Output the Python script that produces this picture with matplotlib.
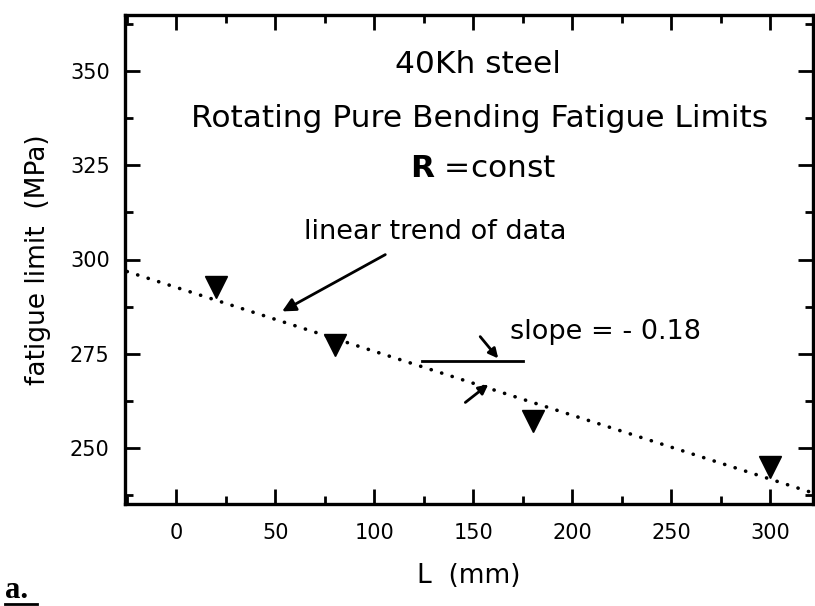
import numpy as np
import matplotlib
matplotlib.use('Agg')
import matplotlib.pyplot as plt
from matplotlib.ticker import MultipleLocator

plt.rcParams['font.family'] = ['DejaVu Sans']
plt.rcParams['mathtext.fontset'] = 'custom'
plt.rcParams['mathtext.bf'] = 'DejaVu Sans:bold'
plt.rcParams['mathtext.rm'] = 'DejaVu Sans'

# данные
L_mm = [20, 80, 180, 300]
fatigue_limit = [292.6, 277.4, 257.0, 244.8]

# линейный тренд
k, b = np.polyfit(L_mm, fatigue_limit, 1)
x_trend = np.array([-30, 330])
y_trend = k * x_trend + b

fig = plt.figure(figsize=(8.15, 6.06), dpi=100)
ax = fig.add_axes([125/815, 102/606, 688/815, 489/606])

ax.plot(x_trend, y_trend, color='black', lw=2.6,
        linestyle=(0, (0.05, 3.0)), dash_capstyle='round')
ax.plot(L_mm, fatigue_limit, 'v', color='black', markersize=16)

ax.set_xlim(-25.8, 321.5)
ax.set_ylim(235, 365)
ax.xaxis.set_major_locator(MultipleLocator(50))
ax.xaxis.set_minor_locator(MultipleLocator(25))
ax.yaxis.set_major_locator(MultipleLocator(25))
ax.yaxis.set_minor_locator(MultipleLocator(12.5))
ax.tick_params(which='both', direction='in', top=True, right=True,
               width=2, labelsize=15)
ax.tick_params(axis='x', pad=14)
ax.tick_params(axis='y', pad=11)
ax.tick_params(which='major', length=11)
ax.tick_params(which='minor', length=6)
for s in ax.spines.values():
    s.set_linewidth(2.4)

ax.set_xlabel('L  (mm)', fontsize=19, labelpad=14)
ax.set_ylabel('fatigue limit  (MPa)', fontsize=19, labelpad=14)

# подписи внутри графика
ax.text(0.513, 0.898, '40Kh steel', transform=ax.transAxes,
        ha='center', va='center', fontsize=22.5)
ax.text(0.515, 0.789, 'Rotating Pure Bending Fatigue Limits', transform=ax.transAxes,
        ha='center', va='center', fontsize=22.5)
ax.text(0.52, 0.687, r'$\mathbf{R}$ =const', transform=ax.transAxes,
        ha='center', va='center', fontsize=22.5)

ax.text(130.8, 307.4, 'linear trend of data', ha='center', va='center', fontsize=19.5)
ax.annotate('', xy=(53.5, 286.2), xytext=(105.6, 301.3),
            arrowprops=dict(arrowstyle='-|>', color='black', lw=2,
                            mutation_scale=20, shrinkA=0, shrinkB=0))

ax.text(168.7, 280.6, 'slope = - 0.18', ha='left', va='center', fontsize=19.5)
ax.plot([124.2, 175.3], [273.1, 273.1], color='black', lw=2)
ax.annotate('', xy=(162.6, 273.7), xytext=(153.5, 279.5),
            arrowprops=dict(arrowstyle='-|>', color='black', lw=2,
                            mutation_scale=14, shrinkA=0, shrinkB=0))
ax.annotate('', xy=(157.6, 266.8), xytext=(146.0, 262.0),
            arrowprops=dict(arrowstyle='-|>', color='black', lw=2,
                            mutation_scale=14, shrinkA=0, shrinkB=0))

fig.text(5/815, 1 - 591/606, 'a.', family='Liberation Serif', fontweight='bold',
         fontsize=22, ha='left', va='center')
fig.add_artist(plt.Line2D([5/815, 37/815], [1 - 604/606, 1 - 604/606],
                          color='black', lw=2))

fig.savefig('out.png', dpi=100)
